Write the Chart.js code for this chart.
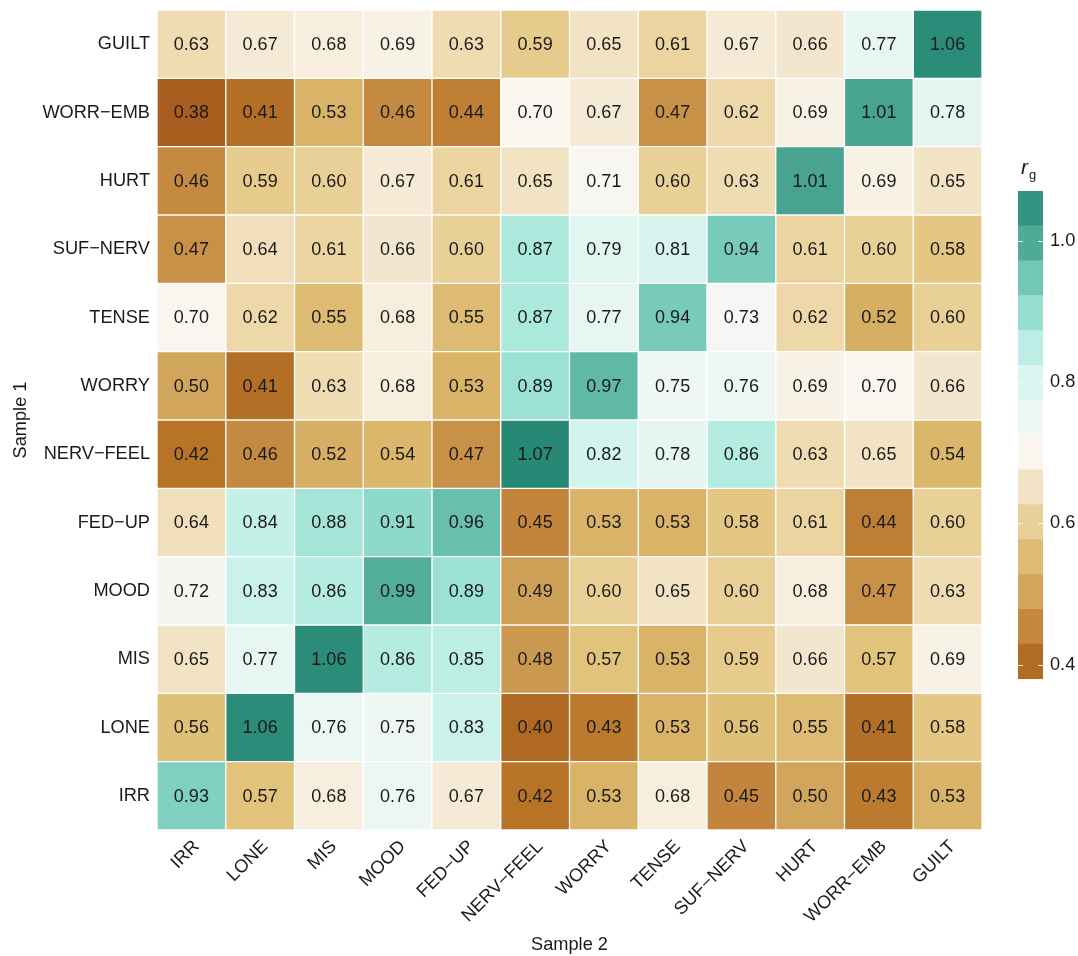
<!DOCTYPE html>
<html>
<head>
<meta charset="utf-8">
<script src="https://cdn.jsdelivr.net/npm/chart.js@4/dist/chart.umd.min.js"></script>
<style>
  html, body { margin: 0; padding: 0; background: #ffffff; }
  #wrap { position: relative; width: 1078px; height: 956px; font-family: "Liberation Sans", Arial, sans-serif; }
  #heat { position: absolute; left: 0; top: 0; }
  #bar { position: absolute; left: 1000px; top: 150px; }
  #legendTitle { position: absolute; left: 1021px; top: 156px; font-size: 21px; color: #1a1a1a; line-height: 1; }
  #legendTitle i { font-style: italic; }
  #legendTitle sub { font-size: 13px; vertical-align: -5px; margin-left: 1px; }
</style>
</head>
<body>
<div id="wrap">
  <canvas id="heat" width="1078" height="956"></canvas>
  <canvas id="bar" width="78" height="560"></canvas>
  <div id="legendTitle"><i>r</i><sub>g</sub></div>
</div>
<script>
// Trait labels (columns: Sample 2, rows: Sample 1, listed bottom to top)
const sample2Labels = ['IRR', 'LONE', 'MIS', 'MOOD', 'FED\u2212UP', 'NERV\u2212FEEL', 'WORRY', 'TENSE', 'SUF\u2212NERV', 'HURT', 'WORR\u2212EMB', 'GUILT'];
const sample1Labels = ['IRR', 'LONE', 'MIS', 'MOOD', 'FED\u2212UP', 'NERV\u2212FEEL', 'WORRY', 'TENSE', 'SUF\u2212NERV', 'HURT', 'WORR\u2212EMB', 'GUILT'];

// Genetic correlations r_g, one array per Sample 1 trait, in Sample 2 column order
const rowIRR      = [0.93, 0.57, 0.68, 0.76, 0.67, 0.42, 0.53, 0.68, 0.45, 0.50, 0.43, 0.53];
const rowLONE     = [0.56, 1.06, 0.76, 0.75, 0.83, 0.40, 0.43, 0.53, 0.56, 0.55, 0.41, 0.58];
const rowMIS      = [0.65, 0.77, 1.06, 0.86, 0.85, 0.48, 0.57, 0.53, 0.59, 0.66, 0.57, 0.69];
const rowMOOD     = [0.72, 0.83, 0.86, 0.99, 0.89, 0.49, 0.60, 0.65, 0.60, 0.68, 0.47, 0.63];
const rowFEDUP    = [0.64, 0.84, 0.88, 0.91, 0.96, 0.45, 0.53, 0.53, 0.58, 0.61, 0.44, 0.60];
const rowNERVFEEL = [0.42, 0.46, 0.52, 0.54, 0.47, 1.07, 0.82, 0.78, 0.86, 0.63, 0.65, 0.54];
const rowWORRY    = [0.50, 0.41, 0.63, 0.68, 0.53, 0.89, 0.97, 0.75, 0.76, 0.69, 0.70, 0.66];
const rowTENSE    = [0.70, 0.62, 0.55, 0.68, 0.55, 0.87, 0.77, 0.94, 0.73, 0.62, 0.52, 0.60];
const rowSUFNERV  = [0.47, 0.64, 0.61, 0.66, 0.60, 0.87, 0.79, 0.81, 0.94, 0.61, 0.60, 0.58];
const rowHURT     = [0.46, 0.59, 0.60, 0.67, 0.61, 0.65, 0.71, 0.60, 0.63, 1.01, 0.69, 0.65];
const rowWORREMB  = [0.38, 0.41, 0.53, 0.46, 0.44, 0.70, 0.67, 0.47, 0.62, 0.69, 1.01, 0.78];
const rowGUILT    = [0.63, 0.67, 0.68, 0.69, 0.63, 0.59, 0.65, 0.61, 0.67, 0.66, 0.77, 1.06];

const rows = [rowIRR, rowLONE, rowMIS, rowMOOD, rowFEDUP, rowNERVFEEL, rowWORRY, rowTENSE, rowSUFNERV, rowHURT, rowWORREMB, rowGUILT];

// Colour-bar tick values
const legendTicks = [0.4, 0.6, 0.8, 1.0];
const legendSteps = 14;

// Brown-to-teal diverging palette
const paletteStops = [
  [0.38, [168, 94, 30]],
  [0.42, [183, 116, 39]],
  [0.46, [197, 138, 66]],
  [0.50, [209, 166, 92]],
  [0.54, [219, 183, 108]],
  [0.58, [228, 199, 130]],
  [0.62, [238, 216, 170]],
  [0.66, [243, 230, 206]],
  [0.70, [250, 245, 238]],
  [0.74, [242, 247, 244]],
  [0.78, [229, 246, 242]],
  [0.82, [210, 244, 237]],
  [0.86, [180, 236, 225]],
  [0.90, [148, 222, 207]],
  [0.94, [120, 203, 187]],
  [0.98, [88, 178, 160]],
  [1.02, [66, 158, 140]],
  [1.07, [39, 136, 117]]
];

function colourFor(v) {
  if (v <= paletteStops[0][0]) return 'rgb(' + paletteStops[0][1].join(',') + ')';
  for (let i = 1; i < paletteStops.length; i++) {
    const [v1, c1] = paletteStops[i];
    if (v <= v1) {
      const [v0, c0] = paletteStops[i - 1];
      const t = (v - v0) / (v1 - v0);
      const c = c0.map((a, k) => Math.round(a + (c1[k] - a) * t));
      return 'rgb(' + c.join(',') + ')';
    }
  }
  return 'rgb(' + paletteStops[paletteStops.length - 1][1].join(',') + ')';
}

const FONT = '"Liberation Sans", Arial, Helvetica, sans-serif';
const INK = '#1a1a1a';
const TXT = 18.2;

// Writes each cell's value in its centre
const cellLabels = {
  id: 'cellLabels',
  afterDatasetsDraw(chart) {
    const ctx = chart.ctx;
    ctx.save();
    ctx.font = '18px ' + FONT;
    ctx.fillStyle = INK;
    ctx.textAlign = 'center';
    ctx.textBaseline = 'middle';
    chart.data.datasets.forEach((ds, i) => {
      const meta = chart.getDatasetMeta(i);
      meta.data.forEach((bar, j) => {
        const p = bar.getProps(['x', 'y', 'base'], true);
        ctx.fillText(ds.rg[j].toFixed(2), p.x, (p.y + p.base) / 2 + 1);
      });
    });
    ctx.restore();
  }
};

const heatDatasets = rows.map((vals, r) => ({
  label: sample1Labels[r],
  rg: vals,
  data: vals.map(() => [r, r + 1]),
  backgroundColor: vals.map(colourFor),
  borderColor: 'rgba(255,255,255,0.9)',
  borderWidth: 1,
  borderSkipped: false,
  barPercentage: 1,
  categoryPercentage: 1,
  grouped: false
}));

new Chart(document.getElementById('heat'), {
  type: 'bar',
  data: { labels: sample2Labels, datasets: heatDatasets },
  options: {
    responsive: false,
    animation: false,
    events: [],
    layout: { padding: { top: 10, right: 96, left: 0, bottom: 0 } },
    plugins: { legend: { display: false }, tooltip: { enabled: false } },
    scales: {
      x: {
        type: 'category',
        grid: { display: false, drawTicks: false },
        border: { display: false },
        ticks: {
          autoSkip: false, maxRotation: 45, minRotation: 45,
          padding: 6, labelOffset: 5, color: INK, font: { size: TXT, family: FONT }
        },
        title: { display: true, text: 'Sample 2', color: INK, font: { size: TXT, family: FONT }, padding: { top: 0, bottom: 0 } },
        afterFit(scale) { scale.height = 126; scale.paddingLeft = 0; scale.paddingRight = 0; }
      },
      y: {
        type: 'linear', min: 0, max: rows.length,
        grid: { display: false, drawTicks: false },
        border: { display: false },
        afterBuildTicks(scale) { scale.ticks = sample1Labels.map((_, i) => ({ value: i + 0.5 })); },
        ticks: {
          padding: 7, color: INK, font: { size: TXT, family: FONT },
          callback: (v) => sample1Labels[Math.round(v - 0.5)]
        },
        title: { display: true, text: 'Sample 1', color: INK, font: { size: TXT, family: FONT }, padding: { top: 10, bottom: 0 } },
        afterFit(scale) { scale.width = 157; scale.paddingTop = 0; scale.paddingBottom = 0; }
      }
    }
  },
  plugins: [cellLabels]
});

// Stepped colour bar
const allVals = rows.flat();
const vMin = Math.min(...allVals);
const vMax = Math.max(...allVals);
const step = (vMax - vMin) / legendSteps;
const barDatasets = [];
for (let k = 0; k < legendSteps; k++) {
  const lo = vMin + k * step, hi = lo + step;
  barDatasets.push({
    data: [[lo, hi]],
    backgroundColor: colourFor((lo + hi) / 2),
    borderWidth: 0,
    barPercentage: 1,
    categoryPercentage: 1,
    grouped: false
  });
}

// Short white tick marks on both edges of the colour bar
const barTicks = {
  id: 'barTicks',
  afterDatasetsDraw(chart) {
    const { ctx, chartArea } = chart;
    const y = chart.scales.y;
    ctx.save();
    ctx.strokeStyle = 'rgba(255,255,255,0.85)';
    ctx.lineWidth = 1;
    legendTicks.forEach(t => {
      const py = Math.round(y.getPixelForValue(t)) + 0.5;
      ctx.beginPath();
      ctx.moveTo(chartArea.left, py); ctx.lineTo(chartArea.left + 5, py);
      ctx.moveTo(chartArea.right - 5, py); ctx.lineTo(chartArea.right, py);
      ctx.stroke();
    });
    ctx.restore();
  }
};

new Chart(document.getElementById('bar'), {
  type: 'bar',
  data: { labels: [''], datasets: barDatasets },
  options: {
    responsive: false,
    animation: false,
    events: [],
    layout: { padding: { top: 41, left: 18, right: 0, bottom: 31 } },
    plugins: { legend: { display: false }, tooltip: { enabled: false } },
    scales: {
      x: { display: false },
      y: {
        position: 'right', min: vMin, max: vMax,
        grid: { display: false, drawTicks: false },
        border: { display: false },
        afterBuildTicks(scale) { scale.ticks = legendTicks.map(v => ({ value: v })); },
        ticks: { padding: 7, color: INK, font: { size: TXT, family: FONT }, callback: (v) => v.toFixed(1) },
        afterFit(scale) { scale.width = 35; scale.paddingTop = 0; scale.paddingBottom = 0; }
      }
    }
  },
  plugins: [barTicks]
});
</script>
</body>
</html>
